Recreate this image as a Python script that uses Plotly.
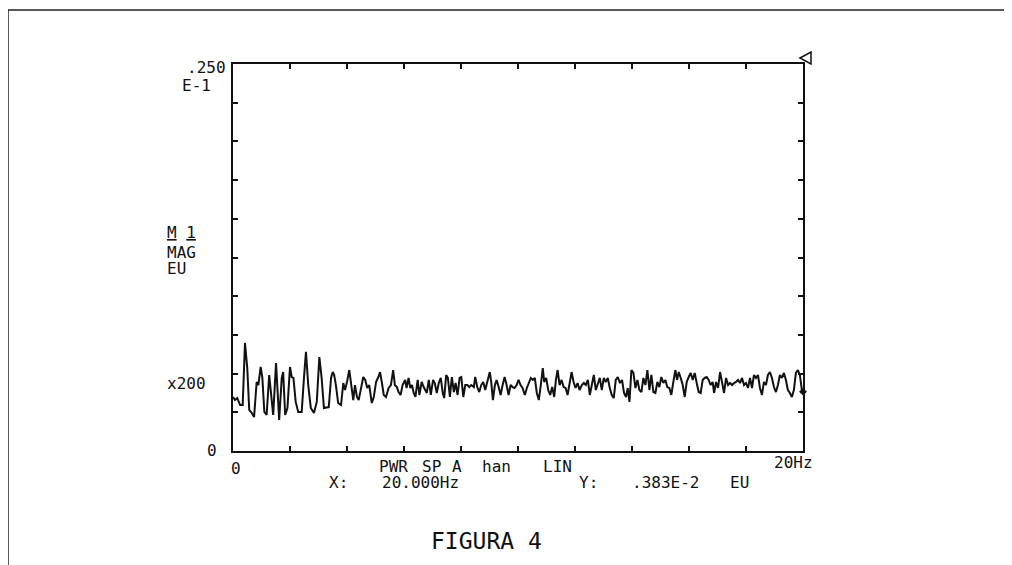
import numpy as np
import plotly.graph_objects as go

# Frequency (Hz) and magnitude (units of 1e-3 EU)
freq_hz = [
    0.00, 0.07, 0.15, 0.25, 0.34, 0.42, 0.50, 0.57, 0.66, 0.74, 0.83, 0.89, 0.97, 1.03, 1.10, 1.18,
    1.27, 1.34, 1.41, 1.51, 1.57, 1.62, 1.71, 1.76, 1.83, 1.91, 2.00, 2.06, 2.12, 2.20, 2.29, 2.41,
    2.49, 2.56, 2.64, 2.73, 2.84, 2.94, 3.03, 3.11, 3.19, 3.29,
    3.36, 3.44, 3.50, 3.55, 3.61, 3.69, 3.79, 3.87, 3.93, 4.00, 4.08, 4.15, 4.22, 4.28, 4.35, 4.41,
    4.48, 4.57, 4.64, 4.71, 4.78, 4.87, 4.94, 5.02, 5.10, 5.16, 5.22, 5.29, 5.37, 5.46, 5.54, 5.62,
    5.68, 5.75, 5.81, 5.88, 5.95, 6.04, 6.09, 6.16, 6.22, 6.28, 6.34, 6.40, 6.48, 6.54, 6.62, 6.69,
    6.80, 6.87, 6.94, 7.02, 7.08, 7.15, 7.22, 7.29, 7.36, 7.41, 7.48, 7.54, 7.61, 7.68, 7.75, 7.81,
    7.88, 7.95, 8.01, 8.08, 8.15, 8.22, 8.29, 8.36, 8.45, 8.50, 8.57, 8.64, 8.71, 8.78, 8.85, 8.92,
    9.01, 9.06, 9.12, 9.19, 9.25, 9.32, 9.39, 9.46, 9.53, 9.60, 9.67, 9.74, 9.81, 9.88, 9.95, 10.02,
    10.09,
    10.16, 10.24, 10.31, 10.38, 10.45, 10.52, 10.59, 10.66, 10.73, 10.80, 10.87, 10.92, 10.99, 11.06,
    11.13, 11.20, 11.27, 11.33, 11.39, 11.46, 11.53, 11.60, 11.67, 11.74, 11.81, 11.88, 11.95, 12.02,
    12.09, 12.16, 12.24, 12.31, 12.38, 12.45, 12.52, 12.59, 12.66, 12.73, 12.80, 12.87, 12.94, 13.01,
    13.08, 13.15, 13.22, 13.29, 13.36, 13.43, 13.50,
    13.58, 13.65, 13.72, 13.79, 13.85, 13.91, 13.98, 14.05, 14.12, 14.19, 14.26, 14.33, 14.40, 14.47,
    14.54, 14.61, 14.68, 14.75, 14.82, 14.89, 14.96, 15.03, 15.10, 15.17, 15.24, 15.31, 15.38, 15.45,
    15.52, 15.58, 15.64, 15.71, 15.78, 15.85, 15.92, 15.99, 16.06, 16.13, 16.20, 16.27, 16.34, 16.41,
    16.48, 16.55, 16.62, 16.69, 16.76, 16.83,
    16.88, 16.95, 17.02, 17.09, 17.16, 17.23, 17.30, 17.37, 17.44, 17.51, 17.58, 17.65, 17.72, 17.79,
    17.86, 17.93, 18.00, 18.07, 18.14, 18.21, 18.28, 18.35, 18.42, 18.49, 18.56, 18.63, 18.70, 18.77,
    18.84, 18.91, 18.98, 19.05, 19.12, 19.19, 19.26, 19.33, 19.40, 19.47, 19.54, 19.61, 19.68, 19.75,
    19.82, 19.89, 19.96, 20.00,
]

mag_milli_eu = [
    3.49, 3.29, 3.42, 2.97, 2.97, 6.98, 5.36, 2.65, 2.45, 2.20, 4.46, 4.26, 5.43, 4.72, 2.52, 2.33,
    4.91, 3.81, 2.33, 5.68, 3.17, 2.00, 4.72, 5.10, 2.33, 2.78, 5.43, 4.78, 4.72, 3.17, 2.52, 2.52,
    4.72, 6.40, 4.26, 2.78, 2.45, 3.17, 6.07, 4.72, 2.78, 2.84,
    2.84, 4.72, 5.10, 4.91, 4.26, 3.10, 2.97, 4.39, 3.94, 4.46, 5.23, 4.26, 3.29, 4.26, 3.49, 3.29,
    3.94, 4.78, 4.59, 4.07, 4.26, 3.10, 3.49, 4.46, 4.78, 5.10, 4.46, 3.62, 3.49, 4.07, 4.26, 5.23,
    4.26, 4.13, 3.81, 3.62, 4.26, 4.59, 4.07, 4.72, 4.07, 4.26, 3.75, 3.49, 4.59, 3.62, 4.46, 4.13,
    3.75, 4.59, 3.62, 4.59, 4.39, 3.75, 4.39, 4.72, 3.75, 3.42, 4.91, 4.72, 3.49, 4.78, 3.81, 4.39,
    3.62, 4.72, 4.78, 3.49, 4.26, 4.26, 4.13, 4.26, 4.13, 4.78, 4.13, 3.81, 4.26, 4.46, 3.94, 4.46,
    5.10, 4.46, 3.29, 4.26, 4.59, 4.13, 3.62, 4.26, 4.78, 4.26, 3.62, 4.26, 4.13, 4.07, 4.26, 4.59,
    4.26,
    4.07, 3.62, 4.07, 4.46, 4.72, 4.59, 4.72, 3.75, 3.29, 4.26, 5.36, 4.46, 4.72, 3.94,
    3.62, 4.13, 3.49, 4.59, 5.23, 4.26, 4.59, 4.13, 4.07, 3.62, 4.39, 5.10, 4.46, 4.07,
    4.39, 3.94, 4.26, 4.39, 4.26, 4.59, 3.62, 4.26, 4.91, 3.94, 4.39, 4.72, 3.94, 4.72,
    4.46, 4.72, 4.07, 3.62, 3.42, 4.59, 4.78,
    4.39, 4.59, 3.75, 3.49, 4.07, 3.17, 5.23, 5.04, 4.07, 4.59, 3.94, 3.81, 4.72, 4.26,
    5.23, 3.94, 4.91, 3.81, 3.75, 4.46, 4.13, 4.78, 4.39, 4.59, 4.13, 4.07, 3.62, 4.46,
    5.23, 4.59, 5.10, 4.72, 4.26, 3.49, 4.46, 4.78, 5.04, 4.59, 5.04, 4.39, 3.81, 3.75,
    4.59, 4.72, 4.78, 4.59, 4.26, 4.46,
    3.75, 4.46, 4.07, 5.10, 4.46, 3.75, 4.72, 4.26, 4.39, 4.26, 4.39, 4.46, 4.59, 4.39,
    4.72, 4.26, 4.39, 4.07, 4.72, 4.07, 4.91, 4.72, 4.91, 4.07, 3.62, 4.46, 4.26, 4.91,
    5.10, 4.72, 4.13, 3.81, 4.26, 4.91, 4.72, 5.04, 4.59, 3.94, 3.75, 3.49, 3.94, 5.04,
    5.23, 4.91, 3.94, 3.83,
]

x_ticks = [0, 2, 4, 6, 8, 10, 12, 14, 16, 18, 20]
y_ticks = [0, 0.0025, 0.005, 0.0075, 0.01, 0.0125, 0.015, 0.0175, 0.02, 0.0225, 0.025]
cursor_x = [20.0]
cursor_y = [0.00383]

mag_eu = np.array(mag_milli_eu) * 1e-3

# page body adds an 8 px offset; screen-space layout below is corrected for it
OFF = 8
W, H = 1012 - OFF, 565 - OFF
L, R, T, B = 233, 803, 64, 451  # plot area in screen pixels


def px(x):
    return (x - L) / (R - L)


def py(y):
    return (B - y) / (B - T)


FONT = "DejaVu Sans Mono"
fig = go.Figure()
fig.add_trace(go.Scatter(x=freq_hz, y=mag_eu, mode="lines",
                         line=dict(color="#111111", width=2), hoverinfo="skip"))
fig.add_trace(go.Scatter(x=cursor_x, y=cursor_y, mode="markers",
                         marker=dict(symbol="diamond", size=6, color="#111111"),
                         cliponaxis=False, hoverinfo="skip"))

axis_common = dict(showgrid=False, zeroline=False, showline=True, linecolor="#111111",
                   linewidth=2, mirror="ticks", ticks="inside", ticklen=5, tickwidth=1.5,
                   tickcolor="#111111", showticklabels=False)
fig.update_xaxes(range=[0, 20], tickvals=x_ticks, **axis_common)
fig.update_yaxes(range=[0, 0.025], tickvals=y_ticks, **axis_common)


def ann(text, x, y, xanchor="left", size=16):
    fig.add_annotation(text=text, x=px(x), y=py(y), xref="paper", yref="paper",
                       xanchor=xanchor, yanchor="middle", showarrow=False,
                       font=dict(family=FONT, size=size, color="#111111"))


ann(".250", 185, 68)
ann("E-1", 180, 85)
ann("<u>M</u> <u>1</u>", 165, 232)
ann("MAG", 165, 252)
ann("EU", 165, 268)
ann("x200", 165, 383)
ann("0", 205, 450)
ann("0", 229, 468)
ann("20Hz", 772, 462)
ann("PWR", 377, 466)
ann("SP", 420, 466)
ann("A", 450, 466)
ann("han", 480, 466)
ann("LIN", 541, 466)
ann("X:", 327, 482)
ann("20.000Hz", 380, 482)
ann("Y:", 577, 482)
ann(".383E-2", 630, 482)
ann("EU", 728, 482)
ann("FIGURA 4", 429, 541, size=23)

# outer frame of the page
fig.add_shape(type="rect", xref="paper", yref="paper",
              x0=px(8), x1=px(1005), y0=py(600), y1=py(10),
              line=dict(color="#222222", width=1.5))
# cursor triangle at the top right corner
fig.add_shape(type="path", xref="paper", yref="paper",
              path=f"M {px(800)} {py(58)} L {px(811)} {py(52)} L {px(811)} {py(64)} Z",
              line=dict(color="#111111", width=1.5))

fig.update_layout(width=W, height=H, autosize=False,
                  margin=dict(l=L - OFF, r=W - (R - OFF), t=T - OFF, b=H - (B - OFF)),
                  paper_bgcolor="white", plot_bgcolor="white", showlegend=False)

fig.write_html("out.html")
